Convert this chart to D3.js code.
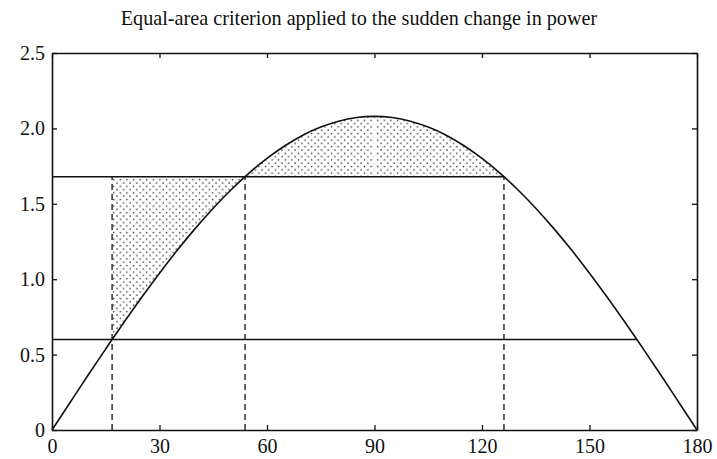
<!DOCTYPE html>
<html>
<head>
<meta charset="utf-8">
<script src="https://cdn.jsdelivr.net/npm/d3@7"></script>
<style>
  body { margin: 0; background: #fff; }
  svg { display: block; }
  text { font-family: "Liberation Serif", "DejaVu Serif", serif; fill: #111; }
</style>
</head>
<body>
<div id="chart"></div>
<script>
// Values
const titleText = "Equal-area criterion applied to the sudden change in power";
const xTicks = [0, 30, 60, 90, 120, 150, 180];
const yTicks = [0, 0.5, 1.0, 1.5, 2.0, 2.5];

// Power-angle curve, read at every 5 degrees plus the crossing points
const curveDelta = [0, 5, 10, 15, 16.77, 20, 25, 30, 35, 40, 45, 50, 53.87, 55, 60, 65, 70, 75, 80, 85, 90,
    95, 100, 105, 110, 115, 120, 125, 126.13, 130, 135, 140, 145, 150, 155, 160, 163.23, 165, 170, 175, 180];
const curvePower = [0, 0.181, 0.361, 0.538, 0.6, 0.711, 0.879, 1.04, 1.193, 1.337, 1.471, 1.593, 1.68, 1.704, 1.801, 1.885, 1.955, 2.009, 2.048, 2.072, 2.08,
    2.072, 2.048, 2.009, 1.955, 1.885, 1.801, 1.704, 1.68, 1.593, 1.471, 1.337, 1.193, 1.04, 0.879, 0.711, 0.6, 0.538, 0.361, 0.181, 0];

const initialPower = 0.6;   // Pm0
const newPower = 1.68;      // Pm1
const delta0 = 16.77;
const delta1 = 53.87;
const deltaMax = 126.13;
const initialLineEnd = 163.23;

const width = 717, height = 459;
const margin = { top: 53, right: 20, bottom: 29, left: 52 };

const svg = d3.select("#chart").append("svg")
    .attr("width", width)
    .attr("height", height);

svg.append("rect").attr("width", width).attr("height", height).attr("fill", "#fff");

const x = d3.scaleLinear().domain([0, 180]).range([margin.left, width - margin.right]);
const y = d3.scaleLinear().domain([0, 2.5]).range([height - margin.bottom, margin.top]);

// Dot pattern for the shaded areas
const defs = svg.append("defs");
const pat = defs.append("pattern")
    .attr("id", "dots")
    .attr("patternUnits", "userSpaceOnUse")
    .attr("width", 6.6).attr("height", 6.6);
pat.append("circle").attr("cx", 1.5).attr("cy", 1.5).attr("r", 0.8).attr("fill", "#333");
pat.append("circle").attr("cx", 4.8).attr("cy", 4.8).attr("r", 0.8).attr("fill", "#333");

const pts = curveDelta.map((d, i) => ({ d, p: curvePower[i] }));

const area = d3.area()
    .x(d => x(d.d))
    .y0(d => y(d.p))
    .y1(y(newPower))
    .curve(d3.curveMonotoneX);

// Accelerating area A1 and decelerating area A2
svg.append("path")
    .datum(pts.filter(d => d.d >= delta0 && d.d <= delta1))
    .attr("d", area)
    .attr("fill", "url(#dots)");
svg.append("path")
    .datum(pts.filter(d => d.d >= delta1 && d.d <= deltaMax))
    .attr("d", area)
    .attr("fill", "url(#dots)");

// thin unshaded strip at 90 degrees, as in the scan
svg.append("line")
    .attr("x1", x(90)).attr("x2", x(90))
    .attr("y1", y(newPower) - 1).attr("y2", y(2.08) + 2)
    .attr("stroke", "#fff").attr("stroke-width", 2);

// Horizontal power lines
svg.append("line")
    .attr("x1", x(0)).attr("x2", x(initialLineEnd))
    .attr("y1", y(initialPower)).attr("y2", y(initialPower))
    .attr("stroke", "#111").attr("stroke-width", 1.5);
svg.append("line")
    .attr("x1", x(0)).attr("x2", x(deltaMax))
    .attr("y1", y(newPower)).attr("y2", y(newPower))
    .attr("stroke", "#111").attr("stroke-width", 1.5);

// Dashed verticals
[delta0, delta1, deltaMax].forEach(d => {
    svg.append("line")
        .attr("x1", x(d)).attr("x2", x(d))
        .attr("y1", y(0)).attr("y2", y(newPower))
        .attr("stroke", "#111").attr("stroke-width", 1.3)
        .attr("stroke-dasharray", "6,4");
});

// Power-angle curve
const line = d3.line()
    .x(d => x(d.d))
    .y(d => y(d.p))
    .curve(d3.curveMonotoneX);
svg.append("path")
    .datum(pts)
    .attr("d", line)
    .attr("fill", "none")
    .attr("stroke", "#111")
    .attr("stroke-width", 1.6);

// Frame and inward ticks
const tickLen = 5;
const axisB = d3.axisBottom(x).tickValues(xTicks).tickSizeInner(-tickLen).tickSizeOuter(0).tickPadding(9).tickFormat(d3.format("d"));
const axisT = d3.axisTop(x).tickValues(xTicks).tickSizeInner(-tickLen).tickSizeOuter(0).tickFormat("");
const axisL = d3.axisLeft(y).tickValues(yTicks).tickSizeInner(-tickLen).tickSizeOuter(0).tickPadding(7)
    .tickFormat(d => d === 0 ? "0" : d3.format(".1f")(d));
const axisR = d3.axisRight(y).tickValues(yTicks).tickSizeInner(-tickLen).tickSizeOuter(0).tickFormat("");

const styleAxis = g => {
    g.select(".domain").attr("stroke", "#111").attr("stroke-width", 1.6);
    g.selectAll(".tick line").attr("stroke", "#111").attr("stroke-width", 1.3);
    g.selectAll(".tick text").attr("font-family", "Liberation Serif, serif").attr("font-size", 20).attr("fill", "#111");
};

svg.append("g").attr("transform", `translate(0,${y(0)})`).call(axisB).call(styleAxis);
svg.append("g").attr("transform", `translate(0,${y(2.5)})`).call(axisT).call(styleAxis);
svg.append("g").attr("transform", `translate(${x(0)},0)`).call(axisL).call(styleAxis);
svg.append("g").attr("transform", `translate(${x(180)},0)`).call(axisR).call(styleAxis);

// Title
svg.append("text")
    .attr("x", 359)
    .attr("y", 25)
    .attr("text-anchor", "middle")
    .attr("font-size", 20.2)
    .text(titleText);
</script>
</body>
</html>
